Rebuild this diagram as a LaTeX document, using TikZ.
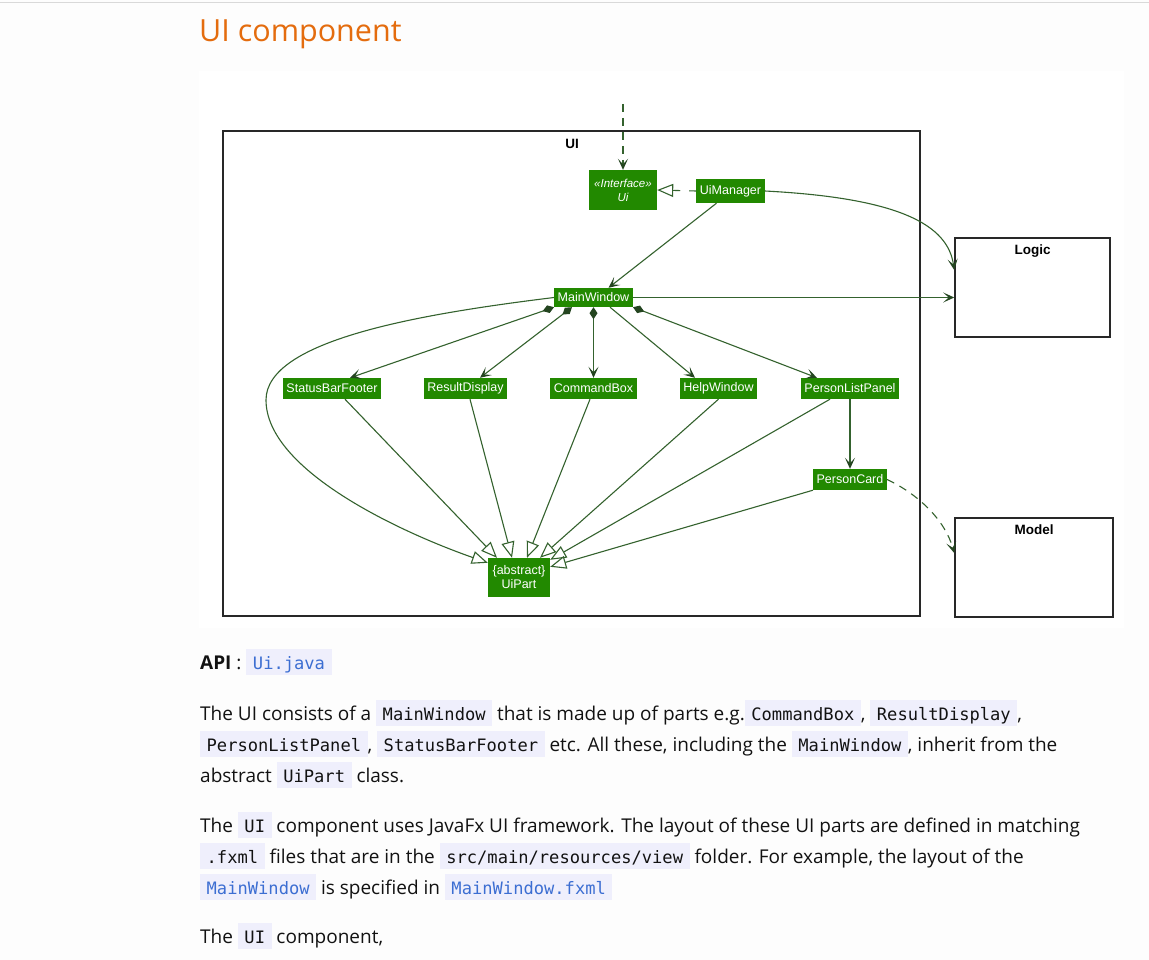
\documentclass[tikz,border=0pt]{standalone}
\usepackage{fontspec}
\setmainfont{Open Sans}
\setsansfont{Liberation Sans}
\setmonofont{DejaVu Sans Mono}
\usetikzlibrary{arrows.meta}
\usetikzlibrary{positioning}

\definecolor{uigreen}{RGB}{34,137,0}
\definecolor{linegreen}{RGB}{52,98,46}
\definecolor{framegray}{RGB}{40,40,40}
\definecolor{headorange}{RGB}{228,108,14}
\definecolor{codebg}{RGB}{239,239,252}
\definecolor{codelink}{RGB}{60,110,210}
\definecolor{bodytext}{RGB}{18,18,18}
\definecolor{pagebg}{RGB}{253,253,253}

\newcommand{\code}[1]{{\setlength{\fboxsep}{4pt}\colorbox{codebg}{\rule[-2pt]{0pt}{18pt}\hspace{2.5pt}\smash{\ttfamily\fontsize{17.1}{20}\selectfont #1}\hspace{2.5pt}}}}
\newcommand{\link}[1]{\code{\color{codelink}#1}}

\begin{document}
\begin{tikzpicture}[x=1pt, y=-1pt,
    cls/.style={fill=uigreen, text=white, font=\sffamily\fontsize{12.5}{14}\selectfont, inner xsep=3.5pt, inner ysep=0pt, minimum height=21pt},
    pkg/.style={draw=framegray, line width=1.6pt},
    pkgtitle/.style={font=\sffamily\bfseries\fontsize{13.5}{15}\selectfont, inner sep=0pt},
    dep/.style={draw=linegreen, line width=1.1pt, -{Stealth[length=11pt, width=10pt, inset=5.5pt, linegreen!70!black]}},
    comp/.style={dep, {Diamond[length=12pt, width=8pt, linegreen!70!black]}-{Stealth[length=11pt, width=10pt, inset=5.5pt, linegreen!70!black]}},
    gen/.style={draw=linegreen, line width=1.1pt, -{Triangle[open, length=16pt, width=13pt, fill=white]}},
    line/.style={anchor=base west, inner sep=0pt, text=bodytext, font=\fontsize{19}{31}\selectfont}]

  \useasboundingbox (0,0) rectangle (1149,960);
  \fill[pagebg] (0,0) rectangle (1149,960);
  \draw[gray!30, line width=1pt] (0,3) -- (1149,3);
  \fill[white] (199,71) rectangle (1124,628);

  \node[anchor=base west, inner sep=0pt, text=headorange, font=\fontsize{30.5}{38}\selectfont] (title) at (199,42) {UI component};

  % packages
  \draw[pkg] (223,131) rectangle (920,616);
  \node[pkgtitle] (uilabel) at (572,144) {UI};
  \node[pkg, minimum width=155pt, minimum height=99pt, inner sep=0pt] (logic) at (1032.5,287.5) {};
  \node[pkgtitle, below=7.5pt of logic.north] (logiclabel) {Logic};
  \node[pkg, minimum width=158pt, minimum height=99pt, inner sep=0pt] (model) at (1034,567.5) {};
  \node[pkgtitle, below=7.5pt of model.north] (modellabel) {Model};

  % classes
  \node[cls, minimum width=68pt, minimum height=40pt, align=center, font=\sffamily\itshape\fontsize{11.5}{14}\selectfont] (ui) at (623,190) {«Interface»\\Ui};
  \node[cls, minimum height=24pt] (uimgr) at (730.5,191) {UiManager};
  \node[cls, minimum height=19pt] (mainwin) at (593.5,297.5) {MainWindow};
  \node[cls] (statusbar) at (332,388.5) {StatusBarFooter};
  \node[cls] (resultdisp) at (465.5,388.5) {ResultDisplay};
  \node[cls] (cmdbox) at (593.5,388.5) {CommandBox};
  \node[cls] (helpwin) at (718.5,388.5) {HelpWindow};
  \node[cls] (personlist) at (850,388.5) {PersonListPanel};
  \node[cls] (personcard) at (850,479.5) {PersonCard};
  \node[cls, minimum width=62pt, minimum height=39pt, align=center] (uipart) at (519,577.5) {\{abstract\}\\UiPart};

  \coordinate (entry) at (623,104);

  % connectors
  \draw[dep, dash pattern=on 8pt off 6pt] (entry) -- (ui.north);
  \draw[gen, dash pattern=on 7pt off 9pt] (uimgr.west) -- (ui.east);
  \draw[dep] (uimgr.east) .. controls (900,198) and (948,225) .. (logic.west |- 0,270);
  \draw[dep] ([xshift=-14pt]uimgr.south) -- ([xshift=15pt]mainwin.north);
  \draw[dep] (mainwin.east) -- (mainwin.east -| logic.west);

  \draw[comp] (mainwin.south west) -- ([xshift=18pt]statusbar.north);
  \draw[comp] ([xshift=-21.5pt]mainwin.south) -- ([xshift=14.5pt]resultdisp.north);
  \draw[comp] (mainwin.south) -- (cmdbox.north);
  \draw[dep] ([xshift=16.5pt]mainwin.south) -- ([xshift=-23.5pt]helpwin.north);
  \draw[comp] (mainwin.south east) -- ([xshift=-33pt]personlist.north);
  \draw[dep] (personlist.south) -- (personcard.north);
  \draw[dep, dash pattern=on 8pt off 6pt] (personcard.east) .. controls (918,494) and (945,520) .. (model.west |- 0,553);

  \draw[gen] (mainwin.west) .. controls (420,314) and (266,340) .. (266,400) .. controls (266,470) and (400,532) .. ([yshift=-5pt]uipart.north west);
  \draw[gen] ([xshift=13pt]statusbar.south) -- ([xshift=-22pt]uipart.north);
  \draw[gen] ([xshift=4.5pt]resultdisp.south) -- ([xshift=-7pt]uipart.north);
  \draw[gen] ([xshift=-3.5pt]cmdbox.south) -- ([xshift=8pt]uipart.north);
  \draw[gen] (helpwin.south) -- ([xshift=21pt]uipart.north);
  \draw[gen] ([xshift=-20pt]personlist.south) -- ([yshift=-2pt]uipart.north east);
  \draw[gen] (personcard.south west) -- ([yshift=-9pt]uipart.north east);

  % page text
  \node[line] (api) at (200,669) {\textbf{API} : \link{Ui.java}};
  \node[line] (para1a) at (200,720) {The UI consists of a \code{MainWindow} that is made up of parts e.g.\code{CommandBox}, \code{ResultDisplay},};
  \node[line] (para1b) at (200,751) {\code{PersonListPanel}, \code{StatusBarFooter} etc. All these, including the \code{MainWindow}, inherit from the};
  \node[line] (para1c) at (200,782) {abstract \code{UiPart} class.};
  \node[line] (para2a) at (200,832) {The \code{UI} component uses JavaFx UI framework. The layout of these UI parts are defined in matching};
  \node[line] (para2b) at (200,863) {\code{.fxml} files that are in the \code{src/main/resources/view} folder. For example, the layout of the};
  \node[line] (para2c) at (200,894) {\link{MainWindow} is specified in \link{MainWindow.fxml}};
  \node[line] (para3) at (200,943) {The \code{UI} component,};
\end{tikzpicture}
\end{document}
